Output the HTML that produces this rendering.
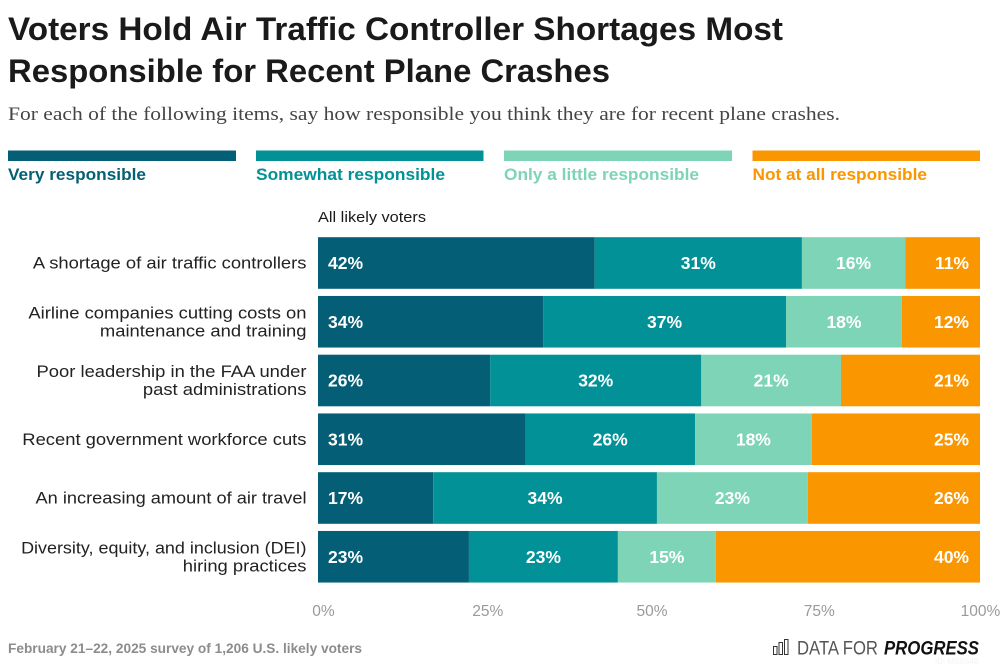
<!DOCTYPE html>
<html lang="en">
<head>
<meta charset="utf-8">
<title>Voters Hold Air Traffic Controller Shortages Most Responsible for Recent Plane Crashes</title>
<style>
html,body{margin:0;padding:0;background:#fff;}
body{width:1000px;height:665px;overflow:hidden;}
svg{display:block;font-family:"Liberation Sans",sans-serif;}
</style>
</head>
<body>
<svg id="chart" width="1000" height="665" viewBox="0 0 1000 665" xmlns="http://www.w3.org/2000/svg">
  <rect x="0" y="0" width="1000" height="665" fill="#fff"/>
  <text x="8" y="40" font-size="32" font-weight="700" fill="#1a1a1a" textLength="775" lengthAdjust="spacingAndGlyphs">Voters Hold Air Traffic Controller Shortages Most</text>
  <text x="8" y="82" font-size="32" font-weight="700" fill="#1a1a1a" textLength="602" lengthAdjust="spacingAndGlyphs">Responsible for Recent Plane Crashes</text>
  <text x="8" y="120" font-size="19" fill="#444" style="font-family:'Liberation Serif',serif" textLength="832" lengthAdjust="spacingAndGlyphs">For each of the following items, say how responsible you think they are for recent plane crashes.</text>

  <g>
    <rect x="8" y="150.5" width="228" height="10.5" fill="#045f76"/>
    <text x="8" y="180" font-size="17" font-weight="700" fill="#045f76" textLength="138" lengthAdjust="spacingAndGlyphs">Very responsible</text>
    <rect x="256" y="150.5" width="227.5" height="10.5" fill="#019196"/>
    <text x="256" y="180" font-size="17" font-weight="700" fill="#019196" textLength="189" lengthAdjust="spacingAndGlyphs">Somewhat responsible</text>
    <rect x="504" y="150.5" width="228" height="10.5" fill="#7dd4b6"/>
    <text x="504" y="180" font-size="17" font-weight="700" fill="#7dd4b6" textLength="195" lengthAdjust="spacingAndGlyphs">Only a little responsible</text>
    <rect x="752.5" y="150.5" width="227.5" height="10.5" fill="#f99600"/>
    <text x="752.5" y="180" font-size="17" font-weight="700" fill="#f99600" textLength="174.5" lengthAdjust="spacingAndGlyphs">Not at all responsible</text>
  </g>

  <text x="318" y="222" font-size="15" fill="#1a1a1a" textLength="108" lengthAdjust="spacingAndGlyphs">All likely voters</text>

  <g id="rows"></g>
  <g id="axis"></g>

  <text x="8" y="653" font-size="14" font-weight="700" fill="#8c8c8c" textLength="354" lengthAdjust="spacingAndGlyphs">February 21–22, 2025 survey of 1,206 U.S. likely voters</text>

  <g>
    <g fill="none" stroke="#333" stroke-width="1">
      <rect x="773.5" y="646.5" width="3.5" height="8"/>
      <rect x="779" y="642.5" width="3.5" height="12"/>
      <rect x="784.5" y="639.5" width="3.5" height="15"/>
    </g>
    <text x="797" y="654.5" font-size="19" fill="#555" textLength="81" lengthAdjust="spacingAndGlyphs">DATA FOR</text>
    <text x="884" y="654.5" font-size="19" font-weight="700" font-style="italic" fill="#111" textLength="95" lengthAdjust="spacingAndGlyphs">PROGRESS</text>
  </g>
  <text x="979" y="664" font-size="8" text-anchor="end" fill="#f3f3f3">ID: MS6S4B</text>
</svg>
<script>
var categoryLines = [
  ["A shortage of air traffic controllers"],
  ["Airline companies cutting costs on", "maintenance and training"],
  ["Poor leadership in the FAA under", "past administrations"],
  ["Recent government workforce cuts"],
  ["An increasing amount of air travel"],
  ["Diversity, equity, and inclusion (DEI)", "hiring practices"]
];
var veryResponsible = [41.8, 34.0, 26.0, 31.3, 17.4, 22.8];
var somewhatResponsible = [31.3, 36.7, 31.9, 25.6, 33.8, 22.5];
var littleResponsible = [15.6, 17.5, 21.1, 17.6, 22.8, 14.8];
var notResponsible = [11.3, 11.8, 21.0, 25.4, 26.0, 39.9];
var axisTicks = [0, 25, 50, 75, 100];

var NS = "http://www.w3.org/2000/svg";
var plotLeft = 318, plotWidth = 662, rowTop = 237.2, rowPitch = 58.75, rowHeight = 51.6;
var fills = ["#045f76", "#019196", "#7dd4b6", "#f99600"];
var seriesKeys = ["very", "somewhat", "little", "not"];
var seriesData = [veryResponsible, somewhatResponsible, littleResponsible, notResponsible];

function xScale(v) { return plotLeft + v / 100 * plotWidth; }
function yScale(i) { return rowTop + i * rowPitch; }
function tickCenter(t) { return 323.5 + t / 100 * 657 + (t === 75 ? 3 : 0); }
function labelStretch(line) {
  if (line.indexOf("(DEI)") >= 0) { return 1.055; }
  if (line.indexOf("air travel") >= 0) { return 1.07; }
  return 1.082;
}
function make(tag, attrs, parent) {
  var el = document.createElementNS(NS, tag);
  for (var k in attrs) { el.setAttribute(k, attrs[k]); }
  parent.appendChild(el);
  return el;
}

var rowsGroup = document.getElementById("rows");
categoryLines.forEach(function (lines, i) {
  var y = yScale(i);
  var row = make("g", {}, rowsGroup);
  
  

  var firstBaseline = y + rowHeight / 2 + 5.5 - (lines.length - 1) * 9;
  lines.forEach(function (line, j) {
    var label = make("text", {
      x: 306.5,
      y: firstBaseline + j * 18.2,
      "text-anchor": "end",
      "font-size": 17,
      fill: "#222"
    }, row);
    
    
    label.textContent = line;
    label.setAttribute("lengthAdjust", "spacingAndGlyphs");
    label.setAttribute("textLength", label.getComputedTextLength() * labelStretch(line));
  });

  var cumulative = 0;
  var total = 0;
  seriesData.forEach(function (s) { total += s[i]; });
  seriesData.forEach(function (s, k) {
    var value = s[i] / total * 100;
    var x0 = xScale(cumulative);
    var x1 = xScale(cumulative + value);
    var bar = make("rect", { x: x0, y: y, width: x1 - x0, height: rowHeight, fill: fills[k] }, row);
    
    
    bar.setAttribute('data-series', seriesKeys[k]);

    var tx = k === 0 ? x0 + 10 : (k === 3 ? x1 - 11 : (x0 + x1) / 2);
    var anchor = k === 0 ? "start" : (k === 3 ? "end" : "middle");
    var text = make("text", {
      x: tx,
      y: y + rowHeight / 2 + 6,
      "text-anchor": anchor,
      "font-size": 17.5,
      "font-weight": 700,
      fill: "#fff"
    }, row);
    
    
    text.textContent = Math.round(s[i]) + "%";
    cumulative += value;
  });
});

var axisGroup = document.getElementById("axis");
axisTicks.forEach(function (t) {
  var tick = make("text", {
    x: tickCenter(t),
    y: 616,
    "text-anchor": "middle",
    "font-size": 15.5,
    fill: "#9a9a9a"
  }, axisGroup);
  
  
  tick.textContent = t + "%";
});
</script>
</body>
</html>
